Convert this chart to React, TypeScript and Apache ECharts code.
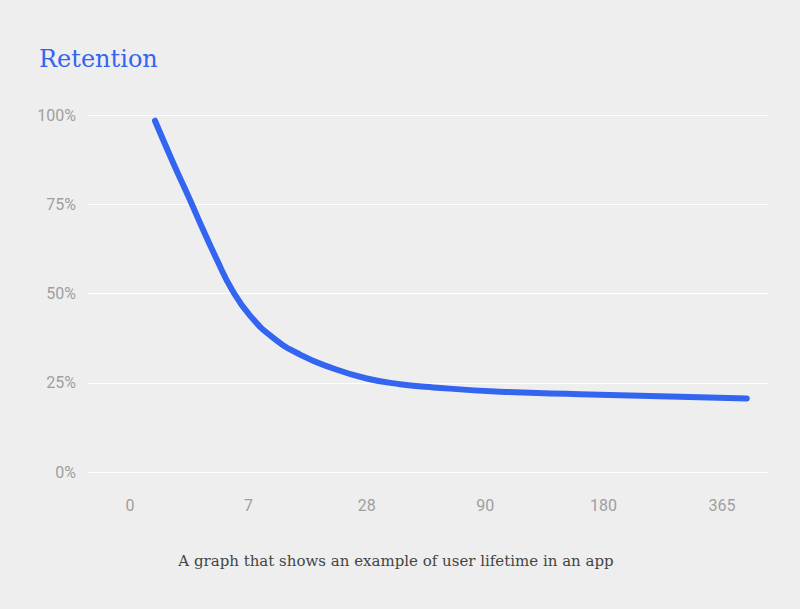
import React, { useEffect, useRef } from "react";
import * as echarts from "echarts";

const dayLabels = ["0", "7", "28", "90", "180", "365"];
const yTicks = [0, 25, 50, 75, 100];
// x position measured in category-index units (0 = "0", 1 = "7", ...)
const curveX = [0.211, 0.366, 0.507, 0.606, 0.732, 0.859, 1.014, 1.21, 1.436, 1.717, 1.999, 2.28, 2.562, 3.125, 3.801, 4.645, 5.209];
const retention = [98.4, 86.5, 76.2, 68.7, 59.6, 51.2, 43.8, 37.6, 32.9, 29.0, 26.2, 24.6, 23.7, 22.5, 21.8, 21.1, 20.6];

const titleText = "Retention";
const captionText = "A graph that shows an example of user lifetime in an app";

export default function App() {
  const ref = useRef<HTMLDivElement>(null);
  useEffect(() => {
    if (!ref.current) return;
    const chart = echarts.init(ref.current, null, { renderer: "svg" });
    const blue = "#3465f0";
    chart.setOption({
      animation: false,
      backgroundColor: "#eeeeee",
      title: {
        text: titleText,
        left: 34,
        top: 42,
        textStyle: { fontFamily: "DejaVu Serif", fontWeight: "normal", fontSize: 24, color: blue },
      },
      graphic: [
        {
          type: "text",
          x: 396,
          y: 561,
          style: {
            text: captionText,
            fontFamily: "DejaVu Serif",
            fontSize: 15,
            fill: "#444444",
            align: "center",
            verticalAlign: "middle",
          },
        },
      ],
      grid: [
        { left: 88, right: 32, top: 115, bottom: 137 },
        { left: 70.8, width: 710.4, top: 115, bottom: 137 },
      ],
      xAxis: [
        { type: "value", gridIndex: 0, min: 0, max: 1, show: false },
        {
          type: "category",
          gridIndex: 1,
          data: dayLabels,
          boundaryGap: true,
          axisLine: { show: false },
          axisTick: { show: false },
          splitLine: { show: false },
          axisLabel: { color: "#9e9e9e", fontSize: 16, fontFamily: "Roboto", margin: 25 },
        },
        { type: "value", gridIndex: 1, min: -0.5, max: 5.5, show: false },
      ],
      yAxis: [
        {
          type: "value",
          gridIndex: 0,
          min: yTicks[0],
          max: yTicks[yTicks.length - 1],
          interval: 25,
          axisLine: { show: false },
          axisTick: { show: false },
          splitLine: { lineStyle: { color: "#ffffff", width: 1 } },
          axisLabel: {
            color: "#9e9e9e",
            fontSize: 16,
            fontFamily: "Roboto",
            margin: 12,
            formatter: "{value}%",
          },
        },
        { type: "value", gridIndex: 1, min: 0, max: 100, show: false },
      ],
      series: [
        {
          type: "line",
          xAxisIndex: 2,
          yAxisIndex: 1,
          data: curveX.map((x, i) => [x, retention[i]]),
          smooth: 0.5,
          showSymbol: false,
          lineStyle: { color: blue, width: 6, cap: "round", join: "round" },
        },
      ],
    });
    return () => chart.dispose();
  }, []);
  return (
    <div
      ref={ref}
      style={{ position: "fixed", left: 0, top: 0, width: 800, height: 609 }}
    />
  );
}
